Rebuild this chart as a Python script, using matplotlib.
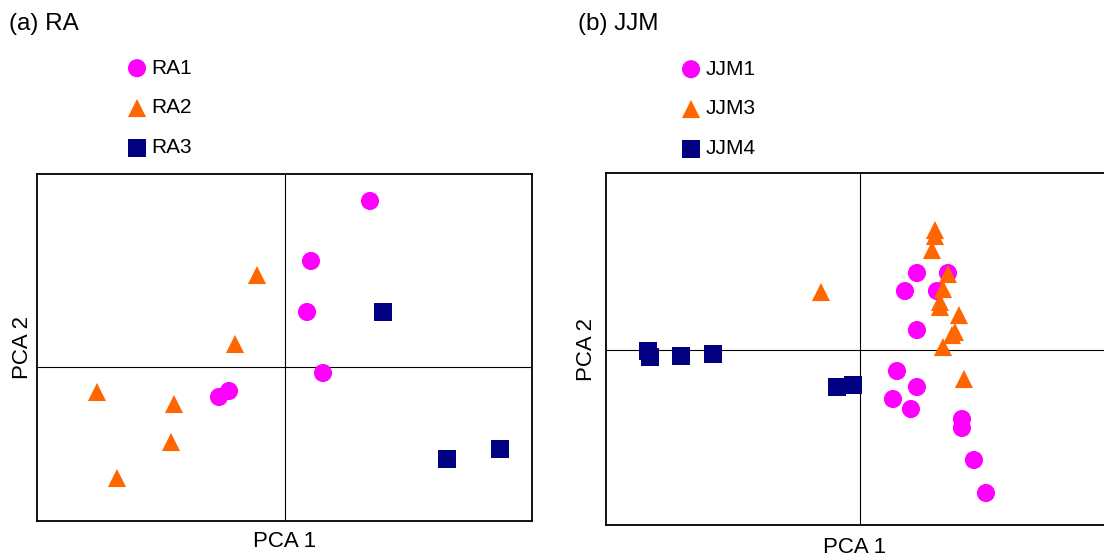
import numpy as np
import matplotlib
matplotlib.use("Agg")
import matplotlib.pyplot as plt

plt.rcParams['font.family'] = ['Liberation Sans', 'DejaVu Sans']

# (a) RA - PCA scores
ra1_x = [0.85, 0.26, 0.22, 0.38, -0.56, -0.66]
ra1_y = [1.66, 1.06, 0.55, -0.06, -0.24, -0.30]
ra2_x = [-0.28, -0.50, -1.88, -1.11, -1.14, -1.68]
ra2_y = [0.92, 0.23, -0.25, -0.37, -0.75, -1.11]
ra3_x = [0.98, 1.62, 2.15]
ra3_y = [0.55, -0.92, -0.82]

# (b) JJM
jjm1_x = [0.57, 0.88, 0.45, 0.77, 0.57, 0.37, 0.57, 0.33, 0.51, 1.02, 1.02, 1.14, 1.26]
jjm1_y = [0.77, 0.77, 0.59, 0.59, 0.20, -0.21, -0.37, -0.49, -0.59, -0.69, -0.78, -1.10, -1.43]
jjm3_x = [0.75, 0.75, 0.72, 0.88, 0.83, 0.80, 0.80, 0.99, 0.95, 0.92, 0.83, 1.04, -0.39]
jjm3_y = [1.20, 1.14, 1.00, 0.76, 0.61, 0.48, 0.43, 0.35, 0.18, 0.15, 0.03, -0.29, 0.58]
jjm4_x = [-2.12, -2.10, -1.79, -1.47, -0.23, -0.07]
jjm4_y = [-0.01, -0.07, -0.06, -0.04, -0.37, -0.35]

MAGENTA = '#FF00FF'
ORANGE = '#FF6600'
NAVY = '#000080'
MS = 170  # marker area in pt^2


def draw_panel(ax, groups, xlim, ylim):
    handles = []
    for x, y, marker, color, label in groups:
        h = ax.scatter(x, y, s=MS, marker=marker, color=color,
                       edgecolors='none', label=label, zorder=3)
        handles.append(h)
    ax.axhline(0, color='black', lw=0.8, zorder=1)
    ax.axvline(0, color='black', lw=0.8, zorder=1)
    ax.set_xlim(*xlim)
    ax.set_ylim(*ylim)
    ax.set_xticks([])
    ax.set_yticks([])
    for sp in ax.spines.values():
        sp.set_linewidth(1.3)
    ax.set_xlabel('PCA 1', fontsize=16)
    ax.set_ylabel('PCA 2', fontsize=16)
    return handles


fig = plt.figure(figsize=(11.04, 5.58), dpi=100)

ax_a = fig.add_axes([0.0335, 0.0663, 0.4484, 0.6219])
h_a = draw_panel(ax_a, [
    (ra1_x, ra1_y, 'o', MAGENTA, 'RA1'),
    (ra2_x, ra2_y, '^', ORANGE, 'RA2'),
    (ra3_x, ra3_y, 's', NAVY, 'RA3'),
], (-2.48, 2.47), (-1.54, 1.93))
ax_a.xaxis.set_label_coords(0.50, -0.029)
ax_a.yaxis.set_label_coords(-0.008, 0.50)

# right edge runs off the figure, like the original
ax_b = fig.add_axes([0.5489, 0.0591, 0.4601, 0.6308])
h_b = draw_panel(ax_b, [
    (jjm1_x, jjm1_y, 'o', MAGENTA, 'JJM1'),
    (jjm3_x, jjm3_y, '^', ORANGE, 'JJM3'),
    (jjm4_x, jjm4_y, 's', NAVY, 'JJM4'),
], (-2.54, 2.54), (-1.75, 1.77))
ax_b.xaxis.set_label_coords(0.49, -0.034)
ax_b.yaxis.set_label_coords(-0.018, 0.50)

fig.text(9 / 1104, 1 - 24 / 558, '(a) RA', fontsize=17.5, ha='left', va='center')
fig.text(578 / 1104, 1 - 24 / 558, '(b) JJM', fontsize=17.5, ha='left', va='center')

leg_kw = dict(loc='center left', frameon=False, fontsize=15, handlelength=1.0,
              handletextpad=0.2, labelspacing=1.0, borderpad=0, borderaxespad=0,
              scatterpoints=1)
fig.legend(handles=h_a, bbox_to_anchor=(126.6 / 1104, 1 - 108 / 558), **leg_kw)
fig.legend(handles=h_b, bbox_to_anchor=(680.6 / 1104, 1 - 109 / 558), **leg_kw)

fig.savefig('out.png', dpi=100)
